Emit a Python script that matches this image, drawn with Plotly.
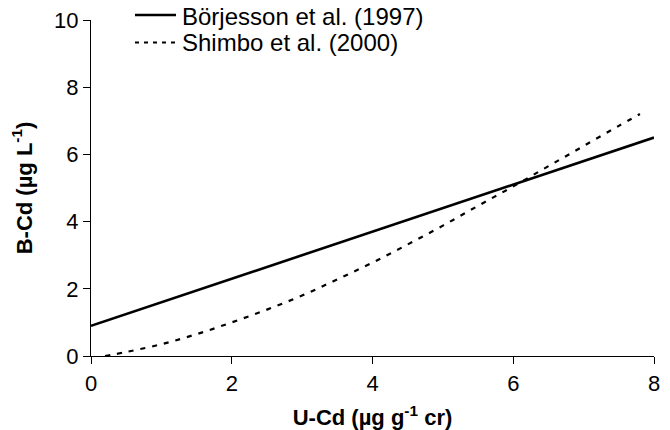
import plotly.graph_objects as go

# Börjesson et al. (1997) – straight line
borj_x = [0, 8]
borj_y = [0.9, 6.5]

# Shimbo et al. (2000) – curve
shim_x = [0.2, 0.5, 1.0, 1.5, 2.0, 2.5, 3.0, 3.5, 4.0, 4.5, 5.0, 5.5, 6.0, 6.5, 7.0, 7.5, 7.8]
shim_y = [0.0, 0.12, 0.35, 0.65, 1.0, 1.38, 1.8, 2.28, 2.78, 3.32, 3.88, 4.47, 5.05, 5.65, 6.25, 6.85, 7.2]

series_names = ["Börjesson et al. (1997)", "Shimbo et al. (2000)"]

x_ticks = [0, 2, 4, 6, 8]
y_ticks = [0, 2, 4, 6, 8, 10]

FONT = "Liberation Sans, Arial, sans-serif"

W, H = 670, 430
ML, MR, MT, MB = 91, 16, 20, 74
PW, PH = W - ML - MR, H - MT - MB


def px_x(p):
    return (p - ML) / PW


def px_y(p):
    return (H - MB - p) / PH


solid = dict(color="black", width=2.6)
dashed = dict(color="black", width=2.2, dash="5px,7px")

fig = go.Figure()
fig.add_trace(go.Scatter(x=borj_x, y=borj_y, mode="lines", name=series_names[0],
                         line=solid, showlegend=False))
fig.add_trace(go.Scatter(x=shim_x, y=shim_y, mode="lines", name=series_names[1],
                         line=dict(**dashed, shape="spline"), showlegend=False))

# manual legend (placed above the plot area, like the reference)
legend_rows = [(15, 16.5, solid), (42.5, 43, dict(color="black", width=2.2, dash="4px,5px"))]
for name, (ly, ty, ln) in zip(series_names, legend_rows):
    fig.add_shape(type="line", xref="paper", yref="paper",
                  x0=px_x(135), x1=px_x(176), y0=px_y(ly), y1=px_y(ly), line=ln)
    fig.add_annotation(text=name, xref="paper", yref="paper", x=px_x(180), y=px_y(ty),
                       xanchor="left", yanchor="middle", showarrow=False,
                       font=dict(family=FONT, size=24, color="black"))

axis_common = dict(showgrid=False, zeroline=False, showline=True, linecolor="black", linewidth=1.4,
                   ticks="outside", ticklen=7, tickwidth=1.4, tickcolor="black", automargin=False,
                   tickfont=dict(family=FONT, size=22, color="black"))

fig.update_layout(
    width=W, height=H, autosize=False,
    margin=dict(l=ML, r=MR, t=MT, b=MB),
    paper_bgcolor="white", plot_bgcolor="white",
    font=dict(family=FONT, size=22, color="black"),
    xaxis=dict(range=[0, 8], tickvals=x_ticks, **axis_common,
               title=dict(text="<b>U-Cd (µg g<sup>-1</sup> cr)</b>", font=dict(family=FONT, size=22))),
    yaxis=dict(range=[0, 10], tickvals=y_ticks, **axis_common,
               title=dict(text="<b>B-Cd (µg L<sup>-1</sup>)</b>", font=dict(family=FONT, size=22))),
    showlegend=False,
)

fig.write_html("out.html", config={"displayModeBar": False},
               post_script="document.body.style.margin='0';document.body.style.padding='0';")
